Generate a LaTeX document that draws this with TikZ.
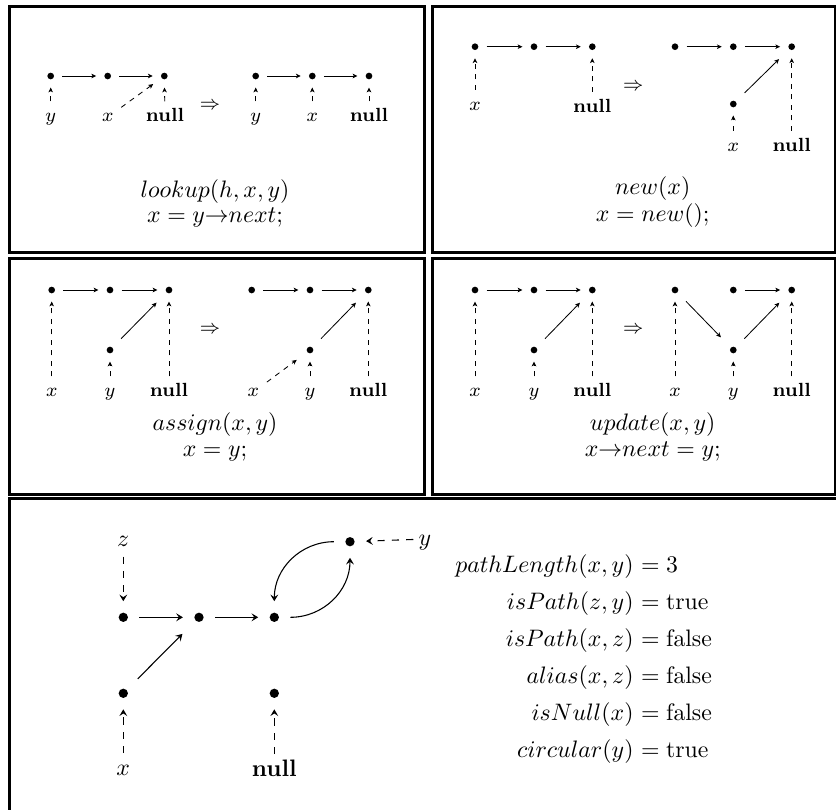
\documentclass[tikz,border=0pt]{standalone}
\usetikzlibrary{arrows.meta}
\tikzset{
  frame/.style={line width=1.26pt, line join=miter},
  dot/.style={circle, fill, inner sep=0pt, minimum size=2.8pt, outer sep=3.45pt},
  bdot/.style={circle, fill, inner sep=0pt, minimum size=3.9pt, outer sep=4.8pt},
  lbl/.style={font=\footnotesize, anchor=base, text height=5.2pt, text depth=1.6pt, inner sep=0pt, outer sep=3.3pt},
  imp/.style={font=\footnotesize, inner sep=0pt},
  blbl/.style={anchor=base, text height=6.9pt, text depth=1.9pt, inner sep=0pt, outer sep=2.3pt},
  sarr/.style={-{Stealth[length=2pt,width=1.9pt,inset=0.5pt]}, line width=0.35pt},
  darr/.style={sarr, dash pattern=on 2.2pt off 2.2pt},
  diag/.style={shorten <=1.8pt, shorten >=2.6pt},
  barr/.style={-{Stealth[length=2.8pt,width=3.3pt,inset=1.1pt]}, line width=0.45pt},
  bdarr/.style={barr, dash pattern=on 3pt off 3pt},
  formula/.style={anchor=base, inner sep=0pt},
  lft/.style={anchor=base east, inner sep=0pt},
  rgt/.style={anchor=base west, inner sep=0pt},
}
\begin{document}
\begin{tikzpicture}[x=0.42pt,y=-0.42pt]
\useasboundingbox (0,0) rectangle (836,810);
% frames
\draw[frame] (9.5,6.5) rectangle (424,252);
\draw[frame] (432.5,6.5) rectangle (835,252);
\draw[frame] (9.5,258) rectangle (424,494);
\draw[frame] (432.5,258) rectangle (835,494);
\draw[frame] (9.5,498) rectangle (850,830);

% ---------- top-left: lookup ----------
\node[dot] (a1) at (50.7,76) {};
\node[dot] (a2) at (107.7,76) {};
\node[dot] (a3) at (164.3,76) {};
\node[lbl] (ay) at (50.7,121.5) {$y$};
\node[lbl] (ax) at (107.7,121.5) {$x$};
\node[lbl] (an) at (165,121.5) {\textbf{null}};
\draw[sarr] (a1) -- (a2);
\draw[sarr] (a2) -- (a3);
\draw[darr] (ay) -- (a1);
\draw[darr] (an) -- (a3);
\draw[darr, shorten >=0.9pt] (ax) -- (a3);
\node[imp] (imp1) at (210,106) {$\Rightarrow$};
\node[dot] (a4) at (255.7,76) {};
\node[dot] (a5) at (312.3,76) {};
\node[dot] (a6) at (369,76) {};
\node[lbl] (ay2) at (255.7,121.5) {$y$};
\node[lbl] (ax2) at (312.3,121.5) {$x$};
\node[lbl] (an2) at (369,121.5) {\textbf{null}};
\draw[sarr] (a4) -- (a5);
\draw[sarr] (a5) -- (a6);
\draw[darr] (ay2) -- (a4);
\draw[darr] (ax2) -- (a5);
\draw[darr] (an2) -- (a6);
\node[formula] (f1a) at (215,197) {$lookup(h,x,y)$};
\node[formula] (f1b) at (215,222.5) {$x = y{\rightarrow}next;$};

% ---------- top-right: new ----------
\node[dot] (b1) at (475,46.7) {};
\node[dot] (b2) at (534,46.7) {};
\node[dot] (b3) at (592.3,46.7) {};
\node[lbl] (bx) at (475,110) {$x$};
\node[lbl] (bn) at (592.3,112) {\textbf{null}};
\draw[sarr] (b1) -- (b2);
\draw[sarr] (b2) -- (b3);
\draw[darr] (bx) -- (b1);
\draw[darr] (bn) -- (b3);
\node[imp] (imp2) at (633.3,87) {$\Rightarrow$};
\node[dot] (b4) at (675,46.7) {};
\node[dot] (b5) at (733.3,46.7) {};
\node[dot] (b6) at (791.7,46.7) {};
\node[dot] (b7) at (733.3,104) {};
\node[lbl] (bx2) at (733.3,151) {$x$};
\node[lbl] (bn2) at (791.7,151) {\textbf{null}};
\draw[sarr] (b4) -- (b5);
\draw[sarr] (b5) -- (b6);
\draw[sarr, diag] (b7) -- (b6);
\draw[darr] (bx2) -- (b7);
\draw[darr] (bn2) -- (b6);
\node[formula] (f2a) at (652.7,194.5) {$new(x)$};
\node[formula] (f2b) at (652.7,221.5) {$x = new();$};

% ---------- middle-left: assign ----------
\node[dot] (c1) at (51.7,290) {};
\node[dot] (c2) at (110,290) {};
\node[dot] (c3) at (169,290) {};
\node[dot] (c4) at (110,350) {};
\node[lbl] (cx) at (51.7,396.5) {$x$};
\node[lbl] (cy) at (110,396.5) {$y$};
\node[lbl] (cn) at (169,396.5) {\textbf{null}};
\draw[sarr] (c1) -- (c2);
\draw[sarr] (c2) -- (c3);
\draw[sarr, diag] (c4) -- (c3);
\draw[darr] (cx) -- (c1);
\draw[darr] (cy) -- (c4);
\draw[darr] (cn) -- (c3);
\node[imp] (imp3) at (210,330) {$\Rightarrow$};
\node[dot] (c5) at (251.7,290) {};
\node[dot] (c6) at (310,290) {};
\node[dot] (c7) at (368.3,290) {};
\node[dot] (c8) at (310,350) {};
\node[lbl] (cx2) at (253.3,396.5) {$x$};
\node[lbl] (cy2) at (310,396.5) {$y$};
\node[lbl] (cn2) at (368.3,396.5) {\textbf{null}};
\draw[sarr] (c5) -- (c6);
\draw[sarr] (c6) -- (c7);
\draw[sarr, diag] (c8) -- (c7);
\draw[darr, shorten >=2.1pt] (cx2) -- (c8);
\draw[darr] (cy2) -- (c8);
\draw[darr] (cn2) -- (c7);
\node[formula] (f3a) at (215,430.5) {$assign(x,y)$};
\node[formula] (f3b) at (215,456) {$x = y;$};

% ---------- middle-right: update ----------
\node[dot] (e1) at (475,290) {};
\node[dot] (e2) at (534,290) {};
\node[dot] (e3) at (592.3,290) {};
\node[dot] (e4) at (534,350) {};
\node[lbl] (ex) at (475,396.5) {$x$};
\node[lbl] (ey) at (534,396.5) {$y$};
\node[lbl] (en) at (592.3,396.5) {\textbf{null}};
\draw[sarr] (e1) -- (e2);
\draw[sarr] (e2) -- (e3);
\draw[sarr, diag] (e4) -- (e3);
\draw[darr] (ex) -- (e1);
\draw[darr] (ey) -- (e4);
\draw[darr] (en) -- (e3);
\node[imp] (imp4) at (633.3,330) {$\Rightarrow$};
\node[dot] (e5) at (675,290) {};
\node[dot] (e6) at (733.3,290) {};
\node[dot] (e7) at (791.7,290) {};
\node[dot] (e8) at (733.3,350) {};
\node[lbl] (ex2) at (675,396.5) {$x$};
\node[lbl] (ey2) at (733.3,396.5) {$y$};
\node[lbl] (en2) at (791.7,396.5) {\textbf{null}};
\draw[sarr] (e6) -- (e7);
\draw[sarr, diag] (e5) -- (e8);
\draw[sarr, diag] (e8) -- (e7);
\draw[darr] (ex2) -- (e5);
\draw[darr] (ey2) -- (e8);
\draw[darr] (en2) -- (e7);
\node[formula] (f4a) at (652.7,430.5) {$update(x,y)$};
\node[formula] (f4b) at (652.7,456) {$x{\rightarrow}next = y;$};

% ---------- bottom panel ----------
\node[bdot] (g1) at (123.3,617.3) {};
\node[bdot] (g2) at (199,617.3) {};
\node[bdot] (g3) at (274.3,617.3) {};
\node[bdot] (gt) at (350,541.7) {};
\node[bdot] (g4) at (123.3,693.3) {};
\node[bdot] (g5) at (274.3,693.3) {};
\node[blbl] (gz) at (123.3,546.5) {$z$};
\node[blbl] (gy) at (425,545) {$y$};
\node[blbl] (gx) at (123.3,775) {$x$};
\node[blbl] (gn) at (274.3,776) {\textbf{null}};
\draw[bdarr] (gz) -- (g1);
\draw[barr] (g1) -- (g2);
\draw[barr] (g2) -- (g3);
\draw[barr, shorten <=1.8pt, shorten >=3.1pt] (g4) -- (g2);
\draw[bdarr] (gx) -- (g4);
\draw[bdarr] (gn) -- (g5);
\draw[barr] (gt) to[out=180,in=90] (g3);
\draw[barr] (g3) to[out=0,in=-90] (gt);
\draw[bdarr] (gy) -- (gt);

% properties
\node[lft] (p1l) at (634,572.5) {$pathLength(x,y)$};
\node[rgt] (p1r) at (634,572.5) {${}= 3$};
\node[lft] (p2l) at (634,609.5) {$isPath(z,y)$};
\node[rgt] (p2r) at (634,609.5) {${}= \mathrm{true}$};
\node[lft] (p3l) at (634,646.5) {$isPath(x,z)$};
\node[rgt] (p3r) at (634,646.5) {${}= \mathrm{false}$};
\node[lft] (p4l) at (634,683.5) {$alias(x,z)$};
\node[rgt] (p4r) at (634,683.5) {${}= \mathrm{false}$};
\node[lft] (p5l) at (634,720.5) {$isNull(x)$};
\node[rgt] (p5r) at (634,720.5) {${}= \mathrm{false}$};
\node[lft] (p6l) at (634,757.5) {$circular(y)$};
\node[rgt] (p6r) at (634,757.5) {${}= \mathrm{true}$};
\end{tikzpicture}
\end{document}
